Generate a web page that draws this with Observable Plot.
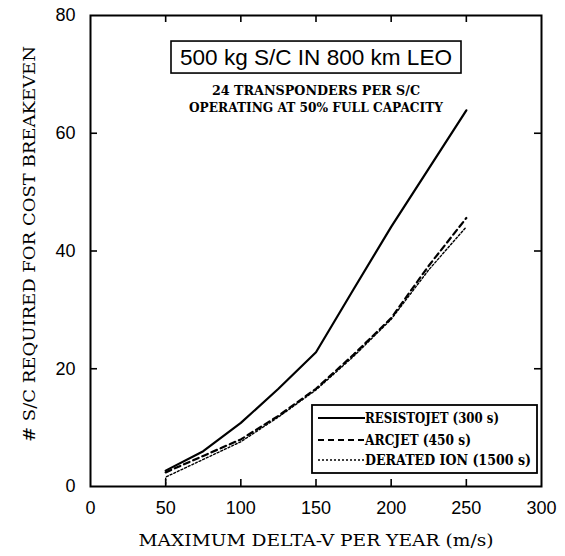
<!DOCTYPE html>
<html><head><meta charset="utf-8">
<script src="https://cdn.jsdelivr.net/npm/d3@7"></script>
<script src="https://cdn.jsdelivr.net/npm/@observablehq/plot@0.6"></script>
<style>body{margin:0;background:#fff} #chart{width:565px;height:556px}</style>
</head><body><div id="chart"></div>
<script>
// ---- data ----
const deltaV = [50, 75, 100, 125, 150, 175, 200, 225, 250];
const resistojet = [2.7, 6.0, 10.8, 16.6, 22.8, 33.5, 44.1, 54.0, 63.9];
const arcjet = [2.4, 5.2, 8.0, 12.0, 16.6, 22.4, 28.6, 37.5, 45.6];
const ionDeltaV = [50, 50, 75, 100, 125, 150, 175, 200, 225, 250];
const derIon = [0.4, 1.6, 4.6, 7.6, 11.8, 16.4, 22.1, 28.4, 36.8, 44.1];
const seriesNames = ["RESISTOJET (300 s)", "ARCJET (450 s)", "DERATED ION (1500 s)"];
const xTicks = [0, 50, 100, 150, 200, 250, 300];
const yTicks = [0, 20, 40, 60, 80];
const xInnerTicks = [50, 100, 150, 200, 250];
const yInnerTicks = [20, 40, 60];
const boxTitle = "500 kg S/C IN 800 km LEO";
const noteLines = ["24 TRANSPONDERS PER S/C", "OPERATING AT 50% FULL CAPACITY"];
const xLabel = "MAXIMUM DELTA-V PER YEAR (m/s)";
const yLabel = "# S/C REQUIRED FOR COST BREAKEVEN";

// ---- layout ----
const W = 565, H = 556, mL = 90, mR = 24, mT = 15, mB = 70;
const iW = W - mL - mR, iH = H - mT - mB;
const serif = "'DejaVu Serif', 'Liberation Serif', serif";
const sans = "'Liberation Sans', Arial, sans-serif";

const rows = (xs, ys) => xs.map((x, i) => ({dv: x, n: ys[i]}));
const styles = [
  {strokeWidth: 2.2},
  {strokeWidth: 2.2, strokeDasharray: "6,4"},
  {strokeWidth: 1.4, strokeDasharray: "2,2"}
];
const seriesData = [rows(deltaV, resistojet), rows(deltaV, arcjet), rows(ionDeltaV, derIon)];

const plot = Plot.plot({
  width: W, height: H,
  marginLeft: mL, marginRight: mR, marginTop: mT, marginBottom: mB,
  style: {fontFamily: sans, fontSize: "18px", background: "white", color: "black", overflow: "visible"},
  x: {domain: [0, 300]},
  y: {domain: [0, 80]},
  marks: [
    Plot.axisX(xTicks, {tickSize: 0, tickPadding: 15, label: null, fontSize: 18}),
    Plot.axisY(yTicks, {tickSize: 0, tickPadding: 15, label: null, fontSize: 18}),
    Plot.ruleX(xInnerTicks, {x: d => d, insetTop: iH - 7, strokeWidth: 1.6}),
    Plot.ruleX(xInnerTicks, {x: d => d, insetBottom: iH - 7, strokeWidth: 1.6}),
    Plot.ruleY(yInnerTicks, {y: d => d, insetRight: iW - 7, strokeWidth: 1.6}),
    Plot.ruleY(yInnerTicks, {y: d => d, insetLeft: iW - 7, strokeWidth: 1.6}),
    Plot.frame({strokeWidth: 2}),
    ...seriesData.map((d, i) => Plot.line(d, {x: "dv", y: "n", stroke: "black", ...styles[i]})),
    Plot.text([boxTitle], {frameAnchor: "top", dy: 42, fontSize: 22, fontFamily: sans, lineAnchor: "middle"}),
    Plot.text([noteLines[0]], {frameAnchor: "top", dy: 75, fontSize: 13, fontWeight: "bold", fontFamily: serif, lineAnchor: "middle"}),
    Plot.text([noteLines[1]], {frameAnchor: "top", dy: 92, fontSize: 13, fontWeight: "bold", fontFamily: serif, lineAnchor: "middle"}),
    Plot.text([xLabel], {frameAnchor: "bottom", dy: 54, fontSize: 17, fontFamily: serif, lineAnchor: "middle"}),
    Plot.text([yLabel], {frameAnchor: "left", rotate: -90, dx: -61, dy: -7, fontSize: 17, fontFamily: serif, lineAnchor: "middle", textAnchor: "middle"})
  ]
});
document.getElementById("chart").appendChild(plot);

const svg = d3.select(plot);
const fitText = (str, len) => svg.selectAll("text").filter(function () { return this.textContent === str; })
  .attr("textLength", len).attr("lengthAdjust", "spacingAndGlyphs");
fitText(boxTitle, 272);
fitText(noteLines[0], 208);
fitText(noteLines[1], 254);
fitText(xLabel, 355);
fitText(yLabel, 396);

// box around the title
svg.selectAll("text").filter(function () { return this.textContent === boxTitle; }).each(function () {
  const b = this.getBBox();
  const cy = b.y + b.height / 2;
  d3.select(this.parentNode).insert("rect", () => this)
    .attr("transform", this.getAttribute("transform"))
    .attr("x", b.x - 9).attr("y", cy - 16).attr("width", b.width + 18).attr("height", 32)
    .attr("fill", "white").attr("stroke", "black").attr("stroke-width", 1.6);
});

// legend box (inside lower right of the frame)
const lgW = 225, lgH = 68;
const lg = svg.append("g").attr("transform", `translate(${W - mR - 4 - lgW},${H - mB - 13 - lgH})`);
lg.append("rect").attr("width", lgW).attr("height", lgH).attr("fill", "white")
  .attr("stroke", "black").attr("stroke-width", 1.8);
const rowY = [13, 35, 55];
const textLens = [134, 106, 166];
seriesNames.forEach((name, i) => {
  lg.append("line").attr("x1", 6).attr("x2", 53).attr("y1", rowY[i]).attr("y2", rowY[i])
    .attr("stroke", "black").attr("stroke-width", styles[i].strokeWidth)
    .attr("stroke-dasharray", styles[i].strokeDasharray || null);
  lg.append("text").attr("x", 53).attr("y", rowY[i]).attr("dy", "0.35em")
    .attr("text-anchor", "start")
    .attr("font-family", serif).attr("font-size", 14).attr("font-weight", "bold")
    .attr("textLength", textLens[i]).attr("lengthAdjust", "spacingAndGlyphs")
    .text(name);
});
</script>
</body></html>
